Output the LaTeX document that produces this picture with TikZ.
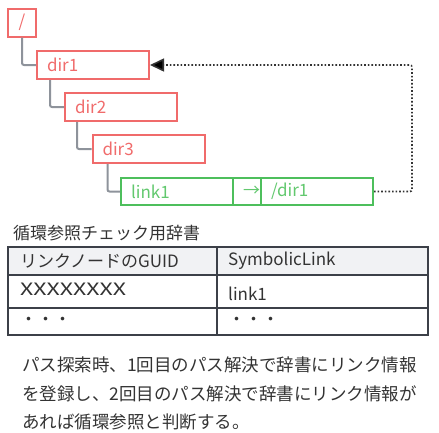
\documentclass[tikz,border=0pt]{standalone}
\usepackage{fontspec}
\usepackage{graphicx}
\setmainfont{Noto Sans CJK JP}
\usetikzlibrary{arrows.meta}
\definecolor{redc}{HTML}{F06B6B}
\definecolor{greenc}{HTML}{4DBF5C}
\definecolor{greent}{HTML}{62C86E}
\definecolor{conn}{HTML}{8E939B}
\definecolor{tline}{HTML}{3C4048}
\definecolor{hdr}{HTML}{F1F2F4}
\definecolor{txt}{HTML}{333333}
\tikzset{
  dirbox/.style={draw=redc, line width=2pt, text=redc, minimum height=28pt,
    inner xsep=10pt, inner ysep=0pt, text width=92pt, align=left,
    font=\fontsize{17}{20}\selectfont},
  linkbox/.style={draw=greenc, line width=2pt, text=greent, minimum height=27pt,
    inner xsep=10pt, inner ysep=0pt, align=left,
    font=\fontsize{17}{20}\selectfont},
  tree/.style={draw=conn, line width=2pt, rounded corners=2pt},
  ttext/.style={anchor=west, text=txt, inner sep=0pt, font=\fontsize{17}{20}\selectfont},
  ptext/.style={anchor=west, text=txt, inner sep=0pt, font=\fontsize{17.5}{20}\selectfont},
}
\begin{document}
\begin{tikzpicture}[x=1pt,y=-1pt]
\useasboundingbox (0,0) rectangle (439,432);
% tree
\node[dirbox, text width=8pt, inner xsep=10pt, align=center, minimum width=28pt] (root) at (22,22.5) {/};
\node[dirbox] (dir1) at (93,65) {dir1};
\node[dirbox] (dir2) at (121,107) {dir2};
\node[dirbox] (dir3) at (148.5,149) {dir3};
\node[linkbox, text width=92pt] (link) at (177,191.5) {link1};
\node[linkbox, text width=8pt, align=center, minimum width=28pt] (arr) at (247,191.5) {→};
\node[linkbox, text width=92pt] (tgt) at (317,191.5) {/dir1};
\draw[tree] (root.south) |- (dir1.west);
\draw[tree] ([xshift=14pt]dir1.south west) |- (dir2.west);
\draw[tree] ([xshift=13pt]dir2.south west) |- (dir3.west);
\draw[tree] ([xshift=16pt]dir3.south west) |- (link.west);
\coordinate (turn) at (412,191.5);
\draw[txt, dotted, line width=1.6pt, rounded corners=2pt, -{Triangle[length=14pt,width=13pt,fill=black]}]
  (tgt.east) -- (turn) |- (dir1.east);
% table
\node[ttext] (title) at (13,233) {循環参照チェック用辞書};
\fill[hdr] (8,247) rectangle (428,275);
\draw[tline, line width=1.3pt] (8,247) rectangle (428,335);
\draw[tline, line width=1.3pt] (8,275) -- (428,275);
\draw[tline, line width=1.3pt] (8,308) -- (428,308);
\draw[tline, line width=1.3pt] (217,247) -- (217,335);
\node[ttext] (h1) at (20,261) {リンクノードのGUID};
\node[ttext] (h2) at (228,261) {SymbolicLink};
\node[ttext] (r1) at (20,289.5) {\scalebox{1.36}[1.0]{XXXXXXXX}};
\node[ttext] (r2) at (228,294) {link1};
\node[ttext] (d1) at (20,321) {・・・};
\node[ttext] (d2) at (228,321) {・・・};
% paragraph
\node[ptext] (p1) at (22,365) {パス探索時、1回目のパス解決で辞書にリンク情報};
\node[ptext] (p2) at (22,394) {を登録し、2回目のパス解決で辞書にリンク情報が};
\node[ptext] (p3) at (22,422) {あれば循環参照と判断する。};
\end{tikzpicture}
\end{document}
